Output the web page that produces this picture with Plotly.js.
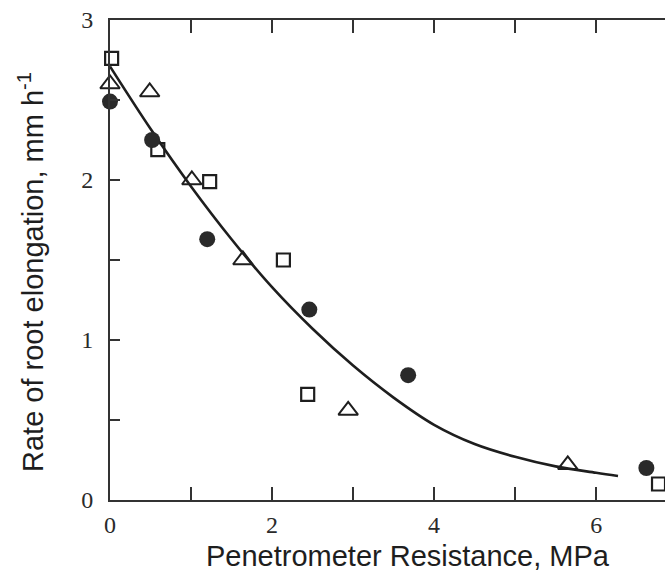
<!DOCTYPE html>
<html><head><meta charset="utf-8">
<script src="https://cdn.plot.ly/plotly-3.0.1.min.js"></script>
<style>html,body{margin:0;padding:0;background:#fff;}</style>
</head><body><div id="chart" style="width:665px;height:573px;"></div>
<script>
// Data
const squareX = [0.02, 0.59, 1.23, 2.14, 2.44, 6.77];
const squareY = [2.76, 2.19, 1.99, 1.50, 0.66, 0.10];
const triangleX = [0.00, 0.49, 1.01, 1.64, 2.94, 5.65];
const triangleY = [2.60, 2.55, 2.00, 1.50, 0.56, 0.22];
const circleX = [0.00, 0.52, 1.20, 2.46, 3.68, 6.62];
const circleY = [2.49, 2.25, 1.63, 1.19, 0.78, 0.20];
const fitX = [0, 0.5, 1, 1.5, 2, 2.5, 3, 3.5, 4, 4.5, 5, 5.5, 6, 6.27];
const fitY = [2.71, 2.32, 1.96, 1.63, 1.33, 1.07, 0.84, 0.64, 0.47, 0.35, 0.27, 0.21, 0.17, 0.15];
const xTickVals = [0, 2, 4, 6];
const xTickText = ['0', '2', '4', '6'];
const xMinorVals = [1, 3, 5];
const yTickVals = [0, 1, 2, 3];
const yTickText = ['0', '1', '2', '3'];
const yMinorVals = [0.5, 1.5, 2.5];

const ink = '#1e1e1e';
const traces = [
  {x: fitX, y: fitY, mode: 'lines', line: {color: ink, width: 2.6, shape: 'spline', smoothing: 1}, showlegend: false, cliponaxis: false},
  {x: squareX, y: squareY, mode: 'markers', marker: {symbol: 'square-open', size: 13, color: ink, line: {width: 2.2, color: ink}}, showlegend: false, cliponaxis: false},
  {x: triangleX, y: triangleY, mode: 'markers', marker: {symbol: 'triangle-up-open', size: 17, color: ink, line: {width: 2, color: ink}}, showlegend: false, cliponaxis: false},
  {x: circleX, y: circleY, mode: 'markers', marker: {symbol: 'circle', size: 16, color: '#2a2a2a'}, showlegend: false, cliponaxis: false}
];

const tickFont = {family: 'Liberation Serif, Times New Roman, serif', size: 24, color: '#2a2a2a'};
const titleFont = {family: 'Liberation Sans, Arial, sans-serif', size: 29, color: '#1e1e1e'};

const layout = {
  width: 665, height: 573,
  margin: {l: 110, r: 0, t: 20, b: 73},
  paper_bgcolor: '#fff', plot_bgcolor: '#fff',
  xaxis: {
    range: [0, 6.85], showgrid: false, zeroline: false,
    showline: true, linecolor: '#333', linewidth: 2, mirror: 'ticks',
    ticks: 'inside', ticklen: 13, tickwidth: 2, tickcolor: '#333',
    tickvals: xTickVals, ticktext: xTickText, ticklabelstandoff: 2,
    minor: {tickvals: xMinorVals, ticks: 'inside', ticklen: 13, tickwidth: 2, tickcolor: '#333', showgrid: false},
    tickfont: tickFont
  },
  yaxis: {
    range: [0, 3], showgrid: false, zeroline: false,
    showline: true, linecolor: '#333', linewidth: 2,
    ticks: 'inside', ticklen: 10, tickwidth: 2, tickcolor: '#333',
    tickvals: yTickVals, ticktext: yTickText, ticklabelstandoff: 10,
    minor: {tickvals: yMinorVals, ticks: 'inside', ticklen: 10, tickwidth: 2, tickcolor: '#333', showgrid: false},
    tickfont: tickFont
  },
  annotations: [
    {text: 'Penetrometer Resistance, MPa', xref: 'paper', yref: 'paper', x: (408 - 110) / 555, y: (500 - 556) / 480, xanchor: 'center', yanchor: 'middle', showarrow: false,
     font: titleFont},
    {text: 'Rate of root elongation, mm h<sup>-1</sup>', xref: 'paper', yref: 'paper', x: (31 - 110) / 555, y: (500 - 272) / 480, xanchor: 'center', yanchor: 'middle', textangle: -90, showarrow: false,
     font: titleFont}
  ]
};

Plotly.newPlot('chart', traces, layout, {displayModeBar: false, staticPlot: true});
</script></body></html>
